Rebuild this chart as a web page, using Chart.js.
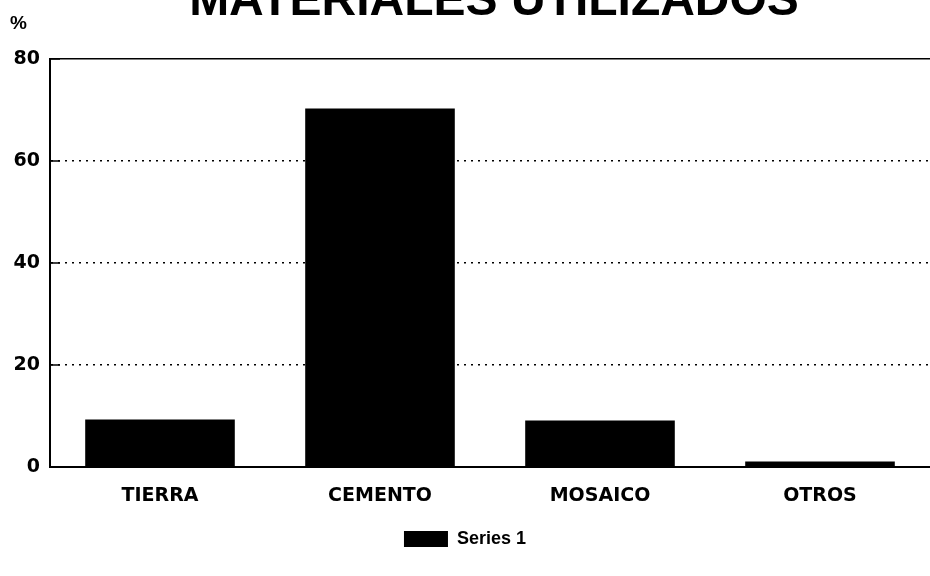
<!DOCTYPE html>
<html>
<head>
<meta charset="utf-8">
<script src="https://cdn.jsdelivr.net/npm/chart.js@4/dist/chart.umd.min.js"></script>
<style>
html,body{margin:0;padding:0;background:#fff;}
#wrap{width:930px;height:576px;position:relative;}
</style>
</head>
<body>
<div id="wrap"><canvas id="c" width="930" height="576"></canvas></div>
<script>
const categories = ["TIERRA", "CEMENTO", "MOSAICO", "OTROS"];
const series1 = [9.3, 70.3, 9.1, 1.1];
const yTicks = [0, 20, 40, 60, 80];
const titleText = "MATERIALES UTILIZADOS";
const unitText = "%";
const seriesName = "Series 1";

const FONT = "'Liberation Sans', Arial, Helvetica, sans-serif";
const WIDE = "'DejaVu Sans', 'Liberation Sans', sans-serif";

const titlePlugin = {
  id: 'customTitle',
  afterDraw(chart) {
    const ctx = chart.ctx;
    ctx.save();
    ctx.fillStyle = '#000';
    ctx.font = "bold 48px " + FONT;
    ctx.textAlign = 'center';
    ctx.textBaseline = 'alphabetic';
    ctx.fillText(titleText, 494, 15);
    ctx.font = "bold 19px " + FONT;
    ctx.textAlign = 'left';
    ctx.fillText(unitText, 10, 29);
    // short solid tick segments inside the plot at each y tick
    const y = chart.scales.y;
    const left = chart.chartArea.left;
    ctx.strokeStyle = '#000';
    ctx.lineWidth = 1.5;
    y.ticks.forEach(t => {
      const py = y.getPixelForValue(t.value);
      ctx.beginPath();
      ctx.moveTo(left, py);
      ctx.lineTo(left + 10, py);
      ctx.stroke();
    });
    ctx.restore();
  }
};

new Chart(document.getElementById('c'), {
  type: 'bar',
  data: {
    labels: categories,
    datasets: [{
      label: seriesName,
      data: series1,
      backgroundColor: '#000',
      borderWidth: 0,
      categoryPercentage: 1.0,
      barPercentage: 0.68
    }]
  },
  options: {
    responsive: false,
    animation: false,
    devicePixelRatio: 1,
    layout: { padding: { top: 59, left: 0, right: 0, bottom: 18 } },
    plugins: {
      title: { display: false },
      tooltip: { enabled: false },
      legend: {
        display: true,
        position: 'bottom',
        labels: {
          boxWidth: 44,
          boxHeight: 16,
          color: '#000',
          font: { family: FONT, size: 18, weight: 'bold' },
          padding: 10
        }
      }
    },
    scales: {
      x: {
        grid: { display: false },
        border: { display: true, color: '#000', width: 2 },
        ticks: {
          color: '#000',
          font: { family: WIDE, size: 19, weight: 'bold' },
          padding: 10,
          maxRotation: 0
        },
        afterFit(scale) { scale.height = 53; }
      },
      y: {
        min: 0,
        max: 80,
        afterBuildTicks(scale) { scale.ticks = yTicks.map(v => ({ value: v })); },
        grid: {
          color: '#000',
          lineWidth: 1.5,
          drawTicks: false
        },
        border: {
          display: true,
          color: '#000',
          width: 2,
          dash: (ctx) => (ctx.tick && (ctx.tick.value === 80 || ctx.tick.value === 0)) ? [] : [2, 5]
        },
        ticks: {
          color: '#000',
          font: { family: WIDE, size: 19, weight: 'bold' },
          padding: 10
        },
        afterFit(scale) { scale.width = 50; }
      }
    }
  },
  plugins: [titlePlugin]
});
</script>
</body>
</html>
